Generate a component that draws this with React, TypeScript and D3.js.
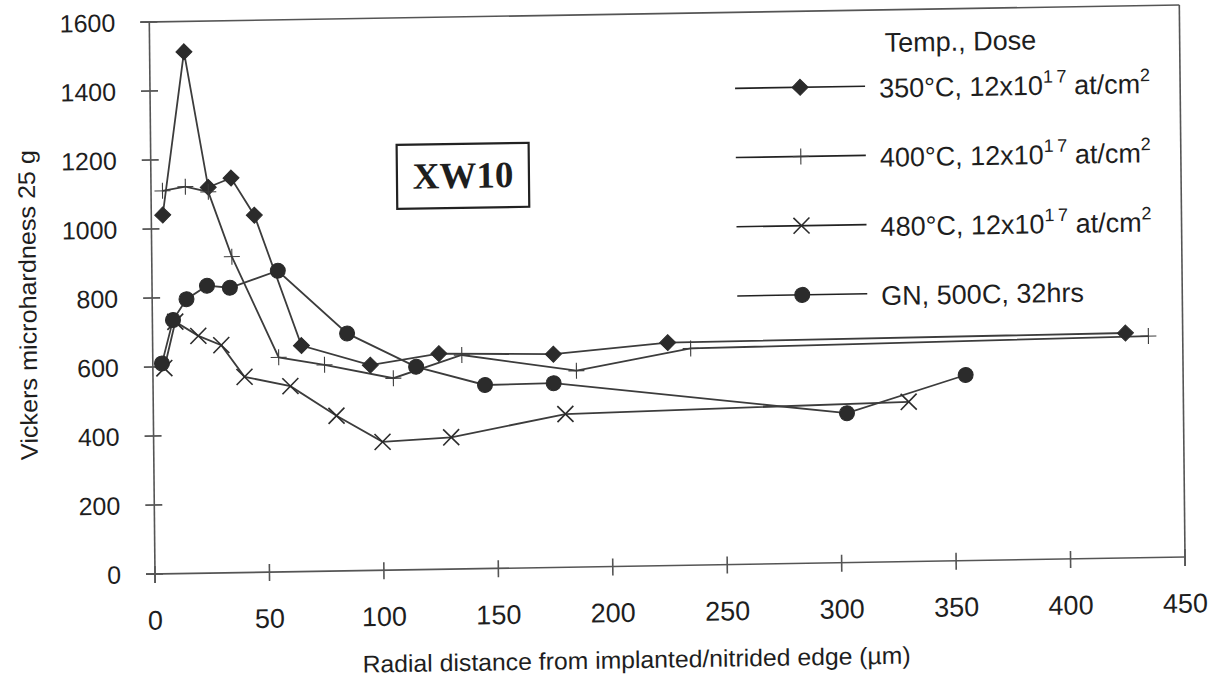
import React from 'react';
import * as d3 from 'd3';

const xTicks = [0, 50, 100, 150, 200, 250, 300, 350, 400, 450];
const yTicks = [0, 200, 400, 600, 800, 1000, 1200, 1400, 1600];

// 350°C, 12x10^17 at/cm^2 (diamonds)
const s350X = [5, 15, 25, 35, 45, 65, 95, 125, 175, 225, 425];
const s350Y = [1040, 1512, 1118, 1144, 1035, 655, 595, 625, 618, 646, 652];
// 400°C (plus)
const s400X = [5, 15, 25, 35, 55, 75, 105, 135, 185, 235, 435];
const s400Y = [1110, 1121, 1105, 916, 622, 598, 556, 620, 569, 628, 642];
// 480°C (x)
const s480X = [5, 10, 20, 30, 40, 60, 80, 100, 130, 180, 330];
const s480Y = [596, 730, 688, 660, 567, 538, 450, 372, 382, 444, 463];
// GN, 500C, 32hrs (circles)
const gnX = [4, 9, 15, 24, 34, 55, 85, 115, 145, 175, 303, 355];
const gnY = [610, 735, 795, 833, 826, 873, 688, 588, 532, 534, 433, 538];

const seriesNames = ['350°C', '400°C', '480°C', 'GN, 500C, 32hrs'];

const INK = '#2b2b2b';
const LINE = '#3c3c3c';
const FONT = '"Liberation Sans", Arial, Helvetica, sans-serif';

function Marker({ type, cx, cy }: { type: string; cx: number; cy: number }) {
  if (type === 'diamond') {
    const s = 8;
    return (
      <path
        d={`M${cx},${cy - s}L${cx + s},${cy}L${cx},${cy + s}L${cx - s},${cy}Z`}
        fill={INK}
        stroke={INK}
        strokeWidth={1}
      />
    );
  }
  if (type === 'plus') {
    const s = 8;
    return (
      <g stroke={LINE} strokeWidth={1.1}>
        <line x1={cx - s} y1={cy} x2={cx + s} y2={cy} />
        <line x1={cx} y1={cy - s} x2={cx} y2={cy + s} />
      </g>
    );
  }
  if (type === 'cross') {
    const s = 8;
    return (
      <g stroke={INK} strokeWidth={1.6}>
        <line x1={cx - s} y1={cy - s} x2={cx + s} y2={cy + s} />
        <line x1={cx - s} y1={cy + s} x2={cx + s} y2={cy - s} />
      </g>
    );
  }
  return <circle cx={cx} cy={cy} r={7.5} fill={INK} stroke={INK} strokeWidth={1} />;
}

export default function App() {
  const W = 1219;
  const H = 685;
  const PW = 1030;
  const PH = 552;
  const x = d3.scaleLinear().domain([0, 450]).range([0, PW]);
  const y = d3.scaleLinear().domain([0, 1600]).range([0, -PH]);
  const line = d3
    .line<[number, number]>()
    .x((d) => x(d[0]))
    .y((d) => y(d[1]));

  const series = [
    { name: seriesNames[0], xs: s350X, ys: s350Y, marker: 'diamond' },
    { name: seriesNames[1], xs: s400X, ys: s400Y, marker: 'plus' },
    { name: seriesNames[2], xs: s480X, ys: s480Y, marker: 'cross' },
    { name: seriesNames[3], xs: gnX, ys: gnY, marker: 'circle' },
  ];

  const legendX = 650;
  const legendY0 = -476;
  const legendStep = 69.2;
  const legendTextX = 729;

  const sup = (base: string) => (
    <>
      <tspan>{base}</tspan>
      <tspan dy={-12} fontSize={18}>1</tspan>
      <tspan fontSize={18}>{'\u2009'}7</tspan>
      <tspan dy={12}> at/cm</tspan>
      <tspan dy={-12} fontSize={18}>2</tspan>
    </>
  );

  const legendLabels = [
    sup('350°C, 12x10'),
    sup('400°C, 12x10'),
    sup('480°C, 12x10'),
    <tspan>GN, 500C, 32hrs</tspan>,
  ];

  return (
    <svg
      width={W}
      height={H}
      viewBox={`0 0 ${W} ${H}`}
      style={{ position: 'absolute', left: 0, top: 0, background: '#fff' }}
    >
      <rect x={0} y={0} width={W} height={H} fill="#fff" />
      <g transform="matrix(1,-0.0165,0.01033,1,155,574)" fontFamily={FONT} fill="#1e1e1e">
        {/* frame */}
        <g stroke="#555" strokeWidth={1.6} fill="none">
          <line x1={-9} y1={-PH} x2={PW} y2={-PH} />
          <line x1={PW} y1={-PH} x2={PW} y2={9} />
          <line x1={0} y1={-PH} x2={0} y2={9} />
          <line x1={-9} y1={0} x2={PW} y2={0} />
          {yTicks.map((t) => (
            <line key={'yt' + t} x1={-9} x2={8} y1={y(t)} y2={y(t)} />
          ))}
          {xTicks.map((t) => (
            <line key={'xt' + t} x1={x(t)} x2={x(t)} y1={-8} y2={9} />
          ))}
        </g>
        {/* y tick labels */}
        {yTicks.map((t) => (
          <text key={'yl' + t} x={-34} y={y(t)} dy="0.36em" textAnchor="end" fontSize={25}>
            {t}
          </text>
        ))}
        {/* x tick labels */}
        {xTicks.map((t) => (
          <text key={'xl' + t} x={x(t)} y={46} dy="0.36em" textAnchor="middle" fontSize={27}>
            {t}
          </text>
        ))}
        {/* axis titles */}
        <text
          x={x(210)}
          y={102}
          textAnchor="middle"
          fontSize={24}
          textLength={548}
          lengthAdjust="spacingAndGlyphs"
        >
          Radial distance from implanted/nitrided edge (µm)
        </text>
        <text
          transform="translate(-116,-271) rotate(-90)"
          textAnchor="middle"
          fontSize={24}
          textLength={310}
          lengthAdjust="spacingAndGlyphs"
        >
          Vickers microhardness 25 g
        </text>

        {/* series lines */}
        {series.map((s) => (
          <path
            key={'l' + s.name}
            d={line(s.xs.map((v, i) => [v, s.ys[i]] as [number, number])) || ''}
            fill="none"
            stroke={LINE}
            strokeWidth={1.8}
          />
        ))}
        {/* markers */}
        {series.map((s) =>
          s.xs.map((v, i) => (
            <Marker key={s.name + i} type={s.marker} cx={x(v)} cy={y(s.ys[i])} />
          ))
        )}

        {/* XW10 label box */}
        <rect x={246} y={-425} width={132} height={64} fill="#fff" stroke="#222" strokeWidth={2.2} />
        <text
          x={312}
          y={-381}
          textAnchor="middle"
          fontFamily='"Liberation Serif", "Times New Roman", serif'
          fontWeight="bold"
          fontSize={37}
        >
          XW10
        </text>

        {/* legend */}
        <text x={735} y={-510} fontSize={27}>
          Temp., Dose
        </text>
        {series.map((s, i) => {
          const ly = legendY0 + i * legendStep;
          return (
            <g key={'lg' + s.name}>
              <line x1={legendX - 65} x2={legendX + 65} y1={ly} y2={ly} stroke="#222" strokeWidth={1.6} />
              <Marker type={s.marker} cx={legendX} cy={ly} />
              <text x={legendTextX} y={ly + 11.5} fontSize={27}>
                {legendLabels[i]}
              </text>
            </g>
          );
        })}
      </g>
    </svg>
  );
}
